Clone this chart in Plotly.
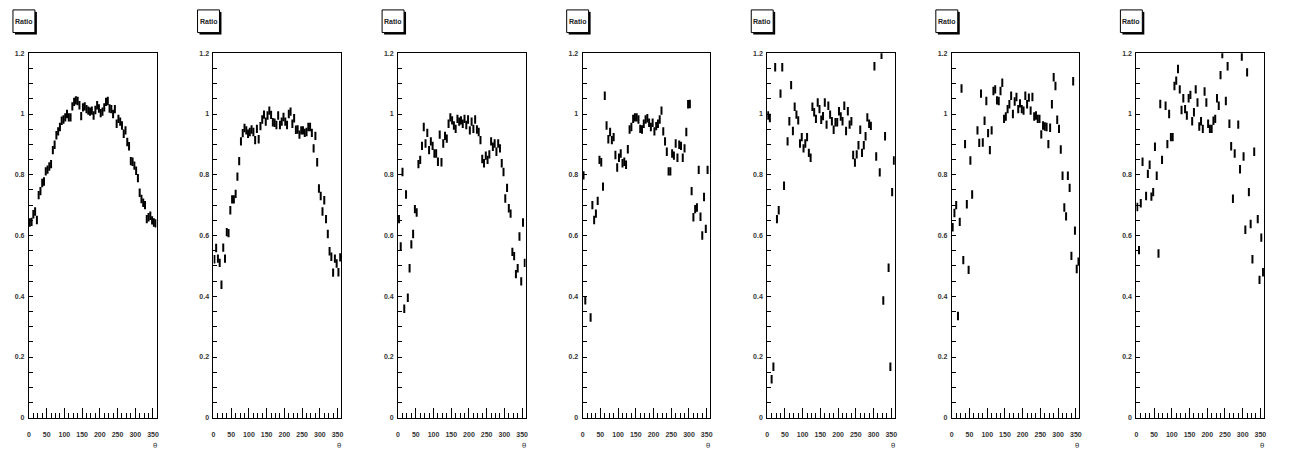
import plotly.graph_objects as go

# bin centres in theta (degrees)
theta = [2.5, 7.5, 12.5, 17.5, 22.5, 27.5, 32.5, 37.5, 42.5, 47.5, 52.5, 57.5,
         62.5, 67.5, 72.5, 77.5, 82.5, 87.5, 92.5, 97.5, 102.5, 107.5, 112.5, 117.5,
         122.5, 127.5, 132.5, 137.5, 142.5, 147.5, 152.5, 157.5, 162.5, 167.5, 172.5, 177.5,
         182.5, 187.5, 192.5, 197.5, 202.5, 207.5, 212.5, 217.5, 222.5, 227.5, 232.5, 237.5,
         242.5, 247.5, 252.5, 257.5, 262.5, 267.5, 272.5, 277.5, 282.5, 287.5, 292.5, 297.5,
         302.5, 307.5, 312.5, 317.5, 322.5, 327.5, 332.5, 337.5, 342.5, 347.5, 352.5, 357.5]

ratio_1 = [0.643, 0.645, 0.670, 0.679, 0.651, 0.733, 0.746, 0.773, 0.778, 0.811, 0.817, 0.827,
           0.835, 0.881, 0.899, 0.930, 0.943, 0.957, 0.978, 0.982, 0.989, 1.000, 0.989, 0.989,
           1.025, 1.040, 1.045, 1.043, 1.029, 0.993, 1.022, 1.025, 1.016, 1.011, 1.008, 1.011,
           0.995, 1.013, 1.029, 1.018, 1.003, 1.008, 1.022, 1.040, 1.043, 1.018, 1.016, 1.000,
           1.016, 0.968, 0.984, 0.975, 0.962, 0.935, 0.946, 0.908, 0.894, 0.845, 0.843, 0.830,
           0.813, 0.789, 0.741, 0.720, 0.708, 0.700, 0.654, 0.660, 0.665, 0.650, 0.643, 0.640]

ratio_2 = [0.522, 0.559, 0.524, 0.510, 0.438, 0.560, 0.524, 0.611, 0.608, 0.683, 0.719, 0.719,
           0.737, 0.794, 0.845, 0.910, 0.937, 0.954, 0.946, 0.935, 0.941, 0.949, 0.941, 0.914,
           0.951, 0.917, 0.960, 0.982, 0.998, 0.975, 0.995, 1.011, 0.997, 0.973, 0.971, 0.964,
           0.995, 0.964, 0.975, 0.990, 0.975, 0.964, 1.000, 1.008, 0.968, 0.986, 0.948, 0.949,
           0.932, 0.946, 0.946, 0.938, 0.941, 0.957, 0.957, 0.938, 0.887, 0.928, 0.841, 0.755,
           0.730, 0.679, 0.716, 0.654, 0.605, 0.548, 0.530, 0.478, 0.524, 0.508, 0.479, 0.528]

ratio_3 = [0.654, 0.564, 0.809, 0.359, 0.735, 0.395, 0.492, 0.571, 0.605, 0.687, 0.676, 0.835,
           0.849, 0.895, 0.957, 0.903, 0.938, 0.881, 0.910, 0.895, 0.870, 0.870, 0.843, 0.932,
           0.841, 0.903, 0.928, 0.919, 0.968, 0.989, 0.979, 0.962, 0.951, 0.984, 0.975, 0.979,
           0.968, 0.984, 0.964, 0.982, 0.946, 0.975, 0.951, 0.982, 0.949, 0.941, 0.914, 0.852,
           0.838, 0.863, 0.849, 0.867, 0.910, 0.892, 0.903, 0.876, 0.903, 0.887, 0.838, 0.809,
           0.722, 0.757, 0.690, 0.672, 0.546, 0.532, 0.473, 0.492, 0.597, 0.449, 0.643, 0.510]

ratio_4 = [0.798, 0.387, None, None, 0.330, 0.700, 0.651, 0.672, 0.714, 0.849, 0.841, 0.761,
           1.060, 0.962, 0.917, 0.941, 0.914, 0.924, 0.865, 0.824, 0.856, 0.870, 0.838, 0.843,
           0.833, 0.884, 0.949, 0.957, 0.984, 0.989, 0.989, 0.982, 0.951, 0.949, 0.968, 0.982,
           0.986, 0.971, 0.957, 0.971, 0.943, 0.960, 0.968, 0.982, 1.011, 0.943, 0.910, 0.876,
           0.811, 0.811, 0.870, 0.863, 0.903, 0.856, 0.899, 0.895, 0.856, 0.887, 0.941, 1.032,
           1.033, 0.746, 0.660, 0.687, 0.692, 0.816, 0.662, 0.600, 0.727, 0.622, 0.816, None]

ratio_5 = [0.995, 0.987, 0.127, 0.168, 1.154, 0.654, 0.683, 1.067, 1.154, 0.764, None, 0.910,
           0.976, 1.095, 0.944, 1.024, 0.998, 0.979, 0.903, 0.924, 0.887, 0.903, 0.924, 0.872,
           0.856, 1.024, 1.006, 0.984, 1.038, 1.016, 0.981, 0.993, 1.038, 0.965, 1.027, 0.998,
           0.976, 0.948, 0.973, 0.973, 1.009, 0.992, 0.976, 1.027, 0.944, 1.009, 0.965, 0.976,
           0.865, 0.840, 0.867, 0.897, 0.948, 0.872, 0.897, 0.927, 0.989, 0.968, 0.961, None,
           1.157, 0.860, None, 0.808, 1.195, 0.386, 0.927, None, 0.494, 0.168, 0.743, 0.847]

ratio_6 = [0.627, 0.674, 0.700, 0.335, 0.645, 1.084, 0.519, 0.901, 0.703, 0.487, 0.847, 0.735,
           None, None, 0.946, 0.905, 1.067, 0.906, 0.978, 1.043, 0.937, 0.881, 0.946, 1.076,
           1.081, 1.045, 1.043, 1.076, 1.103, 0.984, 0.992, 1.016, 1.032, 1.060, 1.000, 1.041,
           1.056, 1.016, 1.035, 1.016, 1.011, 1.060, 1.032, 1.054, 1.011, 1.056, 0.992, 0.995,
           0.984, 0.984, 0.933, 0.962, 0.959, 0.957, 0.901, 0.955, 1.032, 1.121, 1.092, 0.981,
           0.951, 0.883, 0.797, 0.692, 0.663, 0.797, 0.757, 0.533, 1.108, 0.616, 0.490, 0.514]

ratio_7 = [0.694, 0.552, 0.706, 0.843, None, 0.730, 0.803, 0.833, 0.728, 0.743, 0.892, 0.797,
           0.541, 1.033, 0.849, None, 1.027, 0.901, 1.000, 0.924, 0.924, 1.092, 1.110, 1.148,
           1.081, 1.013, 1.052, 1.016, 0.995, 1.052, 1.063, 0.976, 1.006, 1.081, 1.038, 0.959,
           0.976, 0.951, 1.074, 1.038, 0.968, 0.951, 0.951, 0.978, 0.984, 1.052, 1.027, 1.128,
           1.197, None, 1.043, 1.157, 0.968, 0.894, 0.721, 0.870, None, 0.965, 0.818, 1.189,
           0.860, 0.619, 1.137, 0.743, 0.638, 0.522, 0.876, None, 0.654, 0.454, 0.593, 0.479]

panels = [ratio_1, ratio_2, ratio_3, ratio_4, ratio_5, ratio_6, ratio_7]
title_text = "Ratio"
x_title = "θ"
x_ticks = [0, 50, 100, 150, 200, 250, 300, 350]

W, H = 1296, 472
PAD = W / 7.0
FL, FR = 27.0, 155.0      # frame left/right inside each pad (px)
FT, FB = 50, 420          # frame top/bottom (px)

fig = go.Figure()
font_t = dict(family="Liberation Sans, Arial", size=7, color="#333333", weight="bold")

for k, vals in enumerate(panels):
    n = k + 1
    xa = "x" if n == 1 else f"x{n}"
    ya = "y" if n == 1 else f"y{n}"
    fig.add_trace(go.Scatter(
        x=theta, y=vals, mode="markers", xaxis=xa, yaxis=ya, showlegend=False,
        marker=dict(symbol="line-ns", size=6, color="black",
                    line=dict(color="black", width=2)),
        cliponaxis=True, hoverinfo="skip",
    ))
    x0 = k * PAD
    dom_x = [(x0 + FL) / W, (x0 + FR) / W]
    dom_y = [1 - FB / H, 1 - FT / H]
    xkey = "xaxis" if n == 1 else f"xaxis{n}"
    ykey = "yaxis" if n == 1 else f"yaxis{n}"
    fig.layout[xkey] = dict(
        domain=dom_x, range=[0, 360], anchor=ya,
        tickmode="array", tickvals=x_ticks, ticks="inside", ticklen=10, tickwidth=1,
        tickcolor="black", showline=True, linecolor="black", linewidth=1, mirror=True,
        showgrid=False, zeroline=False, tickfont=font_t, ticklabelstandoff=10,
        minor=dict(dtick=12.5, tick0=0, ticks="inside", ticklen=5, tickwidth=1,
                   tickcolor="black", showgrid=False),
    )
    fig.layout[ykey] = dict(
        domain=dom_y, range=[0, 1.2], anchor=xa,
        tickmode="linear", tick0=0, dtick=0.2, ticks="inside", ticklen=4, tickwidth=1,
        tickcolor="black", showline=True, linecolor="black", linewidth=1, mirror=True,
        showgrid=False, zeroline=False, tickfont=font_t, ticklabelstandoff=2,
        minor=dict(dtick=0.05, tick0=0, ticks="inside", ticklen=4, tickwidth=1,
                   tickcolor="black", showgrid=False),
    )
    # title box with shadow
    bx0, bx1, by0, by1 = x0 + 11, x0 + 33, 6, 29
    fig.add_shape(type="rect", xref="paper", yref="paper",
                  x0=(bx0 + 2) / W, x1=(bx1 + 2) / W, y0=1 - (by1 + 2) / H, y1=1 - (by0 + 2) / H,
                  fillcolor="black", line=dict(width=0))
    fig.add_shape(type="rect", xref="paper", yref="paper",
                  x0=bx0 / W, x1=bx1 / W, y0=1 - by1 / H, y1=1 - by0 / H,
                  fillcolor="white", line=dict(color="black", width=1))
    fig.add_annotation(xref="paper", yref="paper", x=(bx0 + bx1) / 2 / W, y=1 - (by0 + by1) / 2 / H,
                       text=title_text, showarrow=False, xanchor="center", yanchor="middle",
                       font=dict(family="Liberation Sans, Arial", size=7, color="#222222", weight="bold"))
    fig.add_annotation(xref="paper", yref="paper", x=(x0 + 153) / W, y=1 - 449 / H,
                       text=x_title, showarrow=False, xanchor="center", yanchor="middle",
                       font=dict(family="DejaVu Sans", size=7, color="#333333"))

fig.update_layout(width=W, height=H, margin=dict(l=0, r=0, t=0, b=0),
                  paper_bgcolor="white", plot_bgcolor="white", hovermode=False)
fig.write_html("out.html", config={"displayModeBar": False, "staticPlot": True})

# remove default page margins so the figure sits at the window origin
with open("out.html", "r", encoding="utf-8") as f:
    html = f.read()
html = html.replace("<head>", "<head><style>html,body{margin:0;padding:0;overflow:hidden;}</style>", 1)
with open("out.html", "w", encoding="utf-8") as f:
    f.write(html)
